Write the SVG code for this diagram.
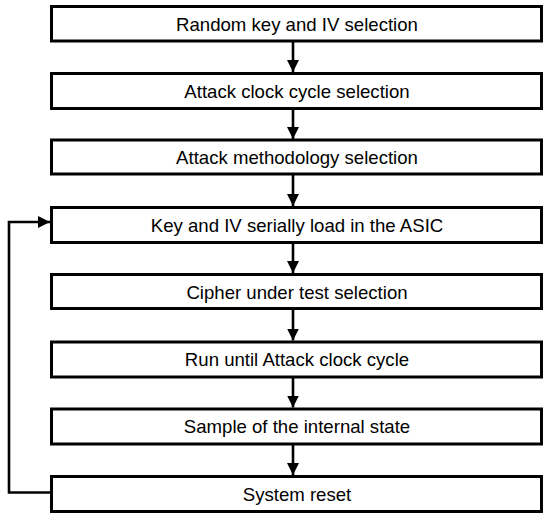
<svg xmlns="http://www.w3.org/2000/svg" width="550" height="522" viewBox="0 0 550 522">
<defs>
<style>
.box{fill:#fff;stroke:#000;stroke-width:3}
.lbl{font-family:"Liberation Sans",Arial,sans-serif;font-size:18.6px;fill:#000;text-anchor:middle}
.con{fill:none;stroke:#000;stroke-width:2.6}
</style>
<marker id="ah" markerUnits="userSpaceOnUse" markerWidth="13" markerHeight="13" viewBox="0 0 13 13" refX="12" refY="6.5" orient="auto">
<path d="M0,0.5 L12,6.5 L0,12.5 z" fill="#000"/>
</marker>
</defs>
<rect width="550" height="522" fill="#fff"/>
<g id="connectors">
<line class="con" x1="293" y1="41" x2="293" y2="72" marker-end="url(#ah)"/>
<line class="con" x1="293" y1="108" x2="293" y2="139" marker-end="url(#ah)"/>
<line class="con" x1="293" y1="175" x2="293" y2="206" marker-end="url(#ah)"/>
<line class="con" x1="293" y1="242" x2="293" y2="273" marker-end="url(#ah)"/>
<line class="con" x1="293" y1="309" x2="293" y2="340.5" marker-end="url(#ah)"/>
<line class="con" x1="293" y1="377" x2="293" y2="407.5" marker-end="url(#ah)"/>
<line class="con" x1="293" y1="444" x2="293" y2="475" marker-end="url(#ah)"/>
<polyline class="con" points="51.5,492.5 9,492.5 9,222 50,222" marker-end="url(#ah)"/>
</g>
<g id="n1"><rect class="box" x="51.5" y="6.5" width="490" height="34.5"/><text class="lbl" x="297" y="30.5">Random key and IV selection</text></g>
<g id="n2"><rect class="box" x="51.5" y="73.5" width="490" height="35"/><text class="lbl" x="297" y="97.5">Attack clock cycle selection</text></g>
<g id="n3"><rect class="box" x="51.5" y="140" width="490" height="34"/><text class="lbl" x="297" y="164">Attack methodology selection</text></g>
<g id="n4"><rect class="box" x="51.5" y="207.5" width="490" height="35"/><text class="lbl" x="297" y="231.5">Key and IV serially load in the ASIC</text></g>
<g id="n5"><rect class="box" x="51.5" y="274.5" width="490" height="34"/><text class="lbl" x="297" y="298.5">Cipher under test selection</text></g>
<g id="n6"><rect class="box" x="51.5" y="342" width="490" height="35"/><text class="lbl" x="297" y="366">Run until Attack clock cycle</text></g>
<g id="n7"><rect class="box" x="51.5" y="409" width="490" height="35"/><text class="lbl" x="297" y="433">Sample of the internal state</text></g>
<g id="n8"><rect class="box" x="51.5" y="476.5" width="490" height="35"/><text class="lbl" x="297" y="500.5">System reset</text></g>
</svg>
